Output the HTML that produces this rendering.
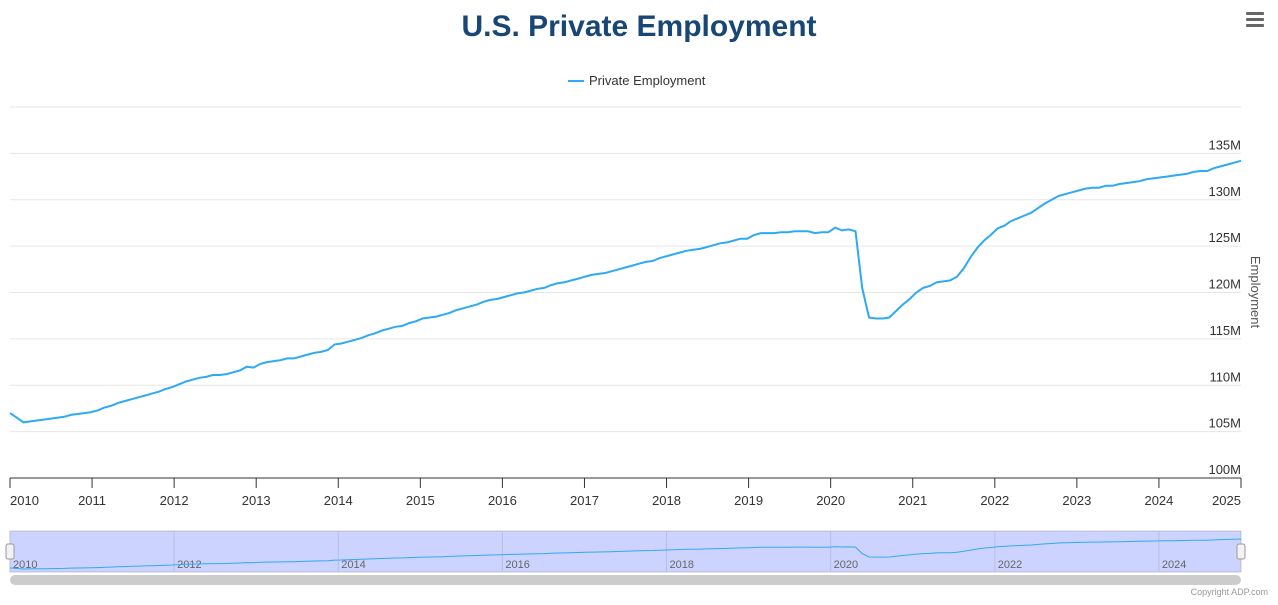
<!DOCTYPE html>
<html><head><meta charset="utf-8"><style>
body{margin:0;background:#fff;font-family:"Liberation Sans",sans-serif;}
svg text{font-family:"Liberation Sans",sans-serif;}
</style></head><body>
<svg id="c" width="1278" height="600"></svg>
<script>
const years=[2010,2011,2012,2013,2014,2015,2016,2017,2018,2019,2020,2021,2022,2023,2024];
const yTicks=[100,105,110,115,120,125,130,135];
const values=[
107.0,106.5,106.0,106.1,106.2,106.3,106.4,106.5,106.6,106.8,106.9,107.0,
107.1,107.3,107.6,107.8,108.1,108.3,108.5,108.7,108.9,109.1,109.3,109.6,
109.8,110.1,110.4,110.6,110.8,110.9,111.1,111.1,111.2,111.4,111.6,112.0,
111.9,112.3,112.5,112.6,112.7,112.9,112.9,113.1,113.3,113.5,113.6,113.8,
114.4,114.5,114.7,114.9,115.1,115.4,115.6,115.9,116.1,116.3,116.4,116.7,
116.9,117.2,117.3,117.4,117.6,117.8,118.1,118.3,118.5,118.7,119.0,119.2,
119.3,119.5,119.7,119.9,120.0,120.2,120.4,120.5,120.8,121.0,121.1,121.3,
121.5,121.7,121.9,122.0,122.1,122.3,122.5,122.7,122.9,123.1,123.3,123.4,
123.7,123.9,124.1,124.3,124.5,124.6,124.7,124.9,125.1,125.3,125.4,125.6,
125.8,125.8,126.2,126.4,126.4,126.4,126.5,126.5,126.6,126.6,126.6,126.4,
126.5,126.5,127.0,126.7,126.8,126.6,120.5,117.3,117.2,117.2,117.3,118.0,
118.7,119.3,120.0,120.5,120.7,121.1,121.2,121.3,121.7,122.6,123.8,124.8,
125.6,126.2,126.9,127.2,127.7,128.0,128.3,128.6,129.1,129.6,130.0,130.4,
130.6,130.8,131.0,131.2,131.3,131.3,131.5,131.5,131.7,131.8,131.9,132.0,
132.2,132.3,132.4,132.5,132.6,132.7,132.8,133.0,133.1,133.1,133.4,133.6,
133.8,134.0,134.2];
const NS='http://www.w3.org/2000/svg';
const svg=document.getElementById('c');
function el(tag,attrs,parent){const e=document.createElementNS(NS,tag);for(const k in attrs)e.setAttribute(k,attrs[k]);(parent||svg).appendChild(e);return e;}
const X0=10,X1=1241,Y0=478,YT=107;
const xs=d=>X0+(d-2010)/15*(X1-X0);
const ys=v=>Y0-(v-100)/40*(Y0-YT);
const dateOf=i=>2010+i*15/(values.length-1);

let t=el('text',{x:639,y:36,'text-anchor':'middle','font-size':30,'font-weight':'bold',fill:'#174677'});t.textContent='U.S. Private Employment';

let m=el('g',{});
[14,20,26].forEach(y=>el('rect',{x:1246,y:y-2,width:18,height:3,rx:1,fill:'#666'},m));
let lg=el('g',{});
el('line',{x1:568,x2:584,y1:81,y2:81,stroke:'#2eaaf5','stroke-width':2},lg);
t=el('text',{x:589,y:85,'font-size':13,fill:'#333'},lg);t.textContent='Private Employment';

for(let v=100;v<=140;v+=5){const g=el('line',{x1:X0,x2:X1,y1:ys(v),y2:ys(v),stroke:v===100?'#333':'#e6e6e6','stroke-width':1});}
yTicks.forEach(v=>{const tx=el('text',{x:1241,y:ys(v)-4,'text-anchor':'end','font-size':13,fill:'#333'});tx.textContent=v+'M';});
t=el('text',{x:1251,y:292,'font-size':13,fill:'#555',transform:'rotate(90 1251 292)','text-anchor':'middle'});t.textContent='Employment';
years.concat([2025]).forEach(y=>{el('line',{x1:xs(y),x2:xs(y),y1:Y0,y2:Y0+10,stroke:'#333'});const anchor=y===2010?'start':(y===2025?'end':'middle');const tx=el('text',{x:xs(y),y:505,'text-anchor':anchor,'font-size':13,fill:'#333'});tx.textContent=y;});
let d=values.map((v,i)=>(i?'L':'M')+xs(dateOf(i)).toFixed(1)+','+ys(v).toFixed(1)).join('');
let ln=el('path',{d:d,fill:'none',stroke:'#2eaaf5','stroke-width':2});

let nav=el('g',{});
el('rect',{x:X0,y:531,width:X1-X0,height:41,fill:'#ccd3ff',stroke:'#99a','stroke-width':0.5},nav);
[2010,2012,2014,2016,2018,2020,2022,2024].forEach(y=>{el('line',{x1:xs(y),x2:xs(y),y1:531,y2:572,stroke:'#b6bde8'},nav);const tx=el('text',{x:xs(y)+3,y:568,'font-size':11,fill:'#666'},nav);tx.textContent=y;});
const nys=v=>569-(v-106)/(134.2-106)*30;
let nd=values.map((v,i)=>(i?'L':'M')+xs(dateOf(i)).toFixed(1)+','+nys(v).toFixed(1)).join('');
el('path',{d:nd,fill:'none',stroke:'#2eaaf5','stroke-width':1},nav);
[X0-1,X1-1].forEach(x=>{const h=el('rect',{x:x-3,y:544,width:8,height:15,rx:2,fill:'#f2f2f2',stroke:'#999'},nav);});
let sb=el('rect',{x:X0,y:575,width:X1-X0,height:10,rx:5,fill:'#cccccc'});
t=el('text',{x:1268,y:595,'text-anchor':'end','font-size':9,fill:'#999'});t.textContent='Copyright ADP.com';
</script>
</body></html>
